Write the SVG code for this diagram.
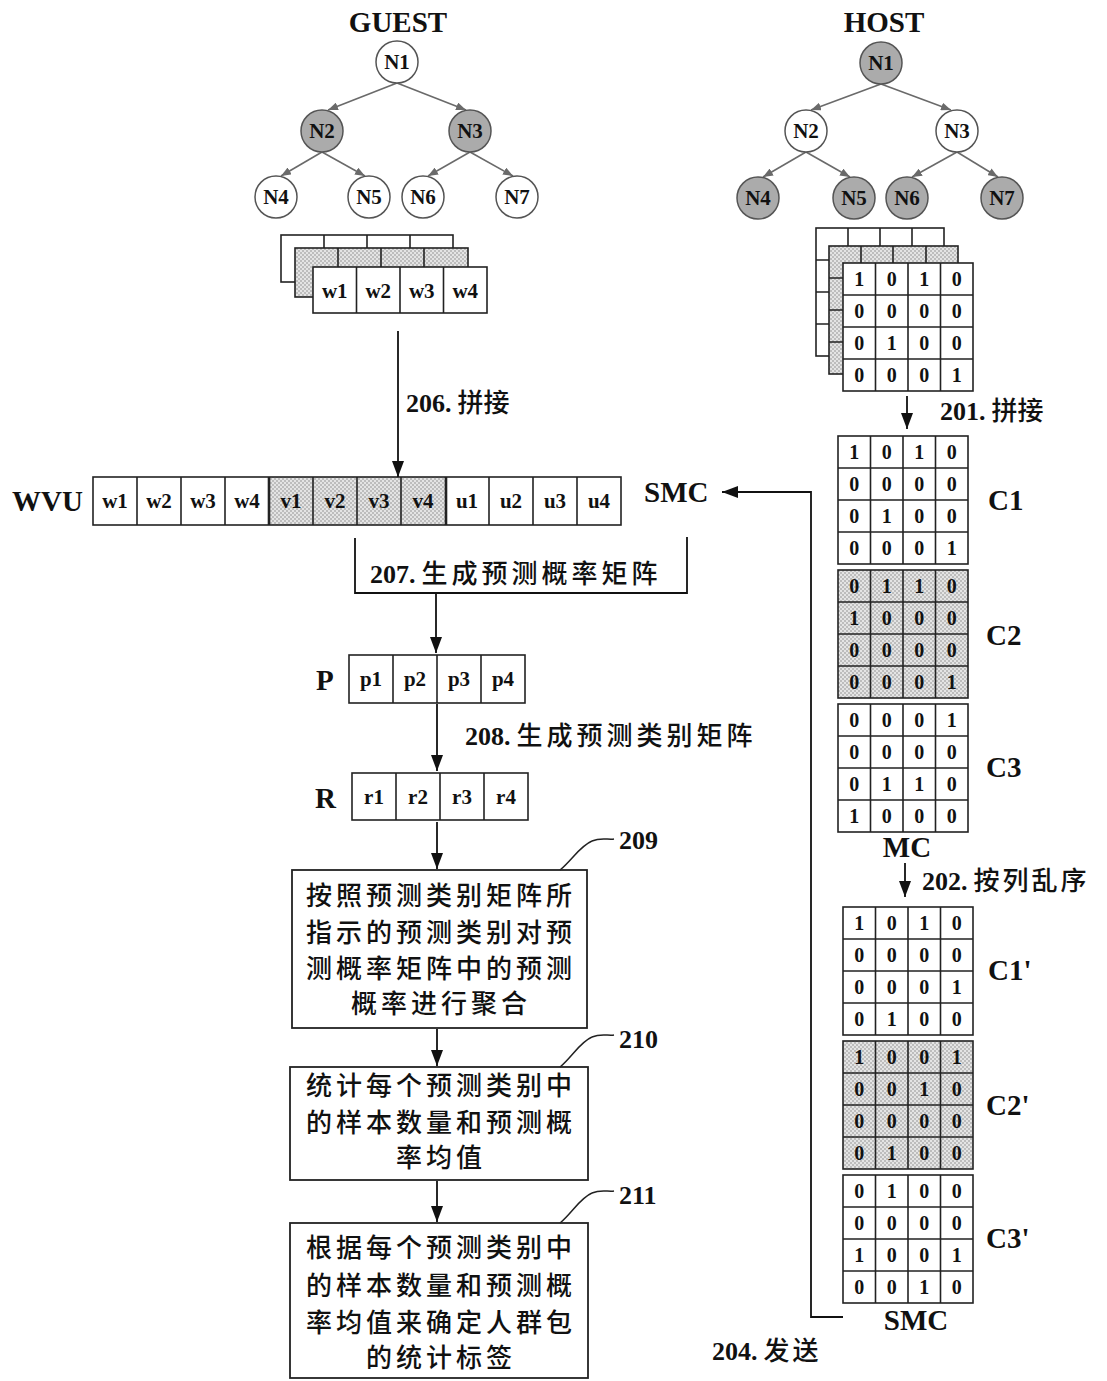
<svg xmlns="http://www.w3.org/2000/svg" width="1107" height="1381" viewBox="0 0 1107 1381">
<defs>
<pattern id="dots" width="4" height="4" patternUnits="userSpaceOnUse">
<rect width="4" height="4" fill="#e4e4e4"/>
<circle cx="1" cy="1" r="0.8" fill="#8c8c8c"/>
<circle cx="3" cy="3" r="0.8" fill="#8c8c8c"/>
</pattern>
<marker id="ah" markerWidth="16" markerHeight="12" refX="16" refY="6" orient="auto" markerUnits="userSpaceOnUse" viewBox="0 0 16 12">
<path d="M0,0 L16,6 L0,12 Z" fill="#111"/>
</marker>
<marker id="tah" markerWidth="10" markerHeight="8" refX="10" refY="4" orient="auto" markerUnits="userSpaceOnUse" viewBox="0 0 10 8">
<path d="M0,0 L10,4 L0,8 Z" fill="#6a6a6a"/>
</marker>
</defs>
<style>
.lat{font-family:"Liberation Serif","Times New Roman",serif;font-weight:bold;fill:#111}
.cjk{font-family:"Noto Sans CJK SC","Noto Sans",sans-serif;font-weight:500;fill:#111}
.node{stroke:#555;stroke-width:1.5}
.wht{fill:#fff}
.gry{fill:#ababab}
.nl{font-family:"Liberation Serif",serif;font-weight:bold;font-size:21px;fill:#111;text-anchor:middle}
.te{stroke:#6a6a6a;stroke-width:1.6;fill:none;marker-end:url(#tah)}
.cell{stroke:#222;stroke-width:1.6}
.ct{font-family:"Liberation Serif",serif;font-weight:bold;font-size:21px;fill:#111;text-anchor:middle}
.num{font-family:"Liberation Serif",serif;font-weight:bold;font-size:20px;fill:#111;text-anchor:middle}
.big{font-family:"Liberation Serif",serif;font-weight:bold;font-size:29px;fill:#111}
.conn{stroke:#111;stroke-width:1.8;fill:none}
.box{fill:#fff;stroke:#222;stroke-width:1.8}
.bt{font-family:"Noto Sans CJK SC",sans-serif;font-weight:500;font-size:26px;letter-spacing:4px;fill:#111;text-anchor:middle}
.call{stroke:#222;stroke-width:1.5;fill:none}
</style>
<rect width="1107" height="1381" fill="#fff"/>

<!-- Titles -->
<text class="big" x="398" y="32" text-anchor="middle" font-size="28">GUEST</text>
<text class="big" x="884" y="32" text-anchor="middle" font-size="28">HOST</text>

<!-- Tree connectors -->
<g id="tree-edges">
<line class="te" x1="397" y1="83" x2="328" y2="110"/>
<line class="te" x1="397" y1="83" x2="466" y2="110"/>
<line class="te" x1="322" y1="152" x2="281" y2="176"/>
<line class="te" x1="322" y1="152" x2="365" y2="176"/>
<line class="te" x1="470" y1="152" x2="428" y2="176"/>
<line class="te" x1="470" y1="152" x2="513" y2="176"/>
<line class="te" x1="881" y1="84" x2="811" y2="110"/>
<line class="te" x1="881" y1="84" x2="951" y2="110"/>
<line class="te" x1="806" y1="152" x2="763" y2="177"/>
<line class="te" x1="806" y1="152" x2="850" y2="177"/>
<line class="te" x1="957" y1="152" x2="912" y2="177"/>
<line class="te" x1="957" y1="152" x2="998" y2="177"/>
</g>

<!-- Guest tree nodes -->
<g id="g-N1"><circle class="node wht" cx="397" cy="62" r="21"/><text class="nl" x="397" y="69">N1</text></g>
<g id="g-N2"><circle class="node gry" cx="322" cy="131" r="21"/><text class="nl" x="322" y="138">N2</text></g>
<g id="g-N3"><circle class="node gry" cx="470" cy="131" r="21"/><text class="nl" x="470" y="138">N3</text></g>
<g id="g-N4"><circle class="node wht" cx="276" cy="197" r="21"/><text class="nl" x="276" y="204">N4</text></g>
<g id="g-N5"><circle class="node wht" cx="369" cy="197" r="21"/><text class="nl" x="369" y="204">N5</text></g>
<g id="g-N6"><circle class="node wht" cx="423" cy="197" r="21"/><text class="nl" x="423" y="204">N6</text></g>
<g id="g-N7"><circle class="node wht" cx="517" cy="197" r="21"/><text class="nl" x="517" y="204">N7</text></g>

<!-- Host tree nodes -->
<g id="h-N1"><circle class="node gry" cx="881" cy="63" r="21"/><text class="nl" x="881" y="70">N1</text></g>
<g id="h-N2"><circle class="node wht" cx="806" cy="131" r="21"/><text class="nl" x="806" y="138">N2</text></g>
<g id="h-N3"><circle class="node wht" cx="957" cy="131" r="21"/><text class="nl" x="957" y="138">N3</text></g>
<g id="h-N4"><circle class="node gry" cx="758" cy="198" r="21"/><text class="nl" x="758" y="205">N4</text></g>
<g id="h-N5"><circle class="node gry" cx="854" cy="198" r="21"/><text class="nl" x="854" y="205">N5</text></g>
<g id="h-N6"><circle class="node gry" cx="907" cy="198" r="21"/><text class="nl" x="907" y="205">N6</text></g>
<g id="h-N7"><circle class="node gry" cx="1002" cy="198" r="21"/><text class="nl" x="1002" y="205">N7</text></g>

<!-- Guest stacked W matrices -->
<g id="guest-w-stack">
<rect class="cell" x="281" y="235" width="172" height="47" fill="#fff"/>
<path class="cell" d="M324,235V282M367,235V282M410,235V282"/>
<rect class="cell" x="295" y="248" width="173" height="49" fill="url(#dots)"/>
<path class="cell" d="M338,248V297M381,248V297M424,248V297"/>
<rect class="cell" x="313" y="267" width="174" height="46" fill="#fff"/>
<path class="cell" d="M356.5,267V313M400,267V313M443.5,267V313"/>
<text class="ct" x="334.75" y="298">w1</text>
<text class="ct" x="378.25" y="298">w2</text>
<text class="ct" x="421.75" y="298">w3</text>
<text class="ct" x="465.25" y="298">w4</text>
</g>

<!-- Host stacked matrices -->
<g id="host-stack">
<rect class="cell" x="816" y="228" width="128" height="128" fill="#fff"/>
<path class="cell" d="M848,228V356M880,228V356M912,228V356M816,260H944M816,292H944M816,324H944"/>
<rect class="cell" x="829" y="246" width="129" height="128" fill="url(#dots)"/>
<path class="cell" d="M861,246V374M893,246V374M926,246V374M829,278H958M829,310H958M829,342H958"/>
<rect class="cell" x="843" y="263" width="130" height="128" fill="#fff"/>
<path class="cell" d="M875.5,263V391M908,263V391M940.5,263V391M843,295H973M843,327H973M843,359H973"/>
<text class="num" x="859.25 891.75 924.25 956.75" y="286">1010</text>
<text class="num" x="859.25 891.75 924.25 956.75" y="318">0000</text>
<text class="num" x="859.25 891.75 924.25 956.75" y="350">0100</text>
<text class="num" x="859.25 891.75 924.25 956.75" y="382">0001</text>
</g>

<!-- MC -->
<g id="C1">
<rect class="cell" x="838" y="436" width="130" height="128" fill="#fff"/>
<path class="cell" d="M870.5,436V564M903,436V564M935.5,436V564M838,468H968M838,500H968M838,532H968"/>
<text class="num" x="854.25 886.75 919.25 951.75" y="459">1010</text>
<text class="num" x="854.25 886.75 919.25 951.75" y="491">0000</text>
<text class="num" x="854.25 886.75 919.25 951.75" y="523">0100</text>
<text class="num" x="854.25 886.75 919.25 951.75" y="555">0001</text>
<text class="big" x="988" y="510">C1</text>
</g>
<g id="C2">
<rect class="cell" x="838" y="570" width="130" height="128" fill="url(#dots)"/>
<path class="cell" d="M870.5,570V698M903,570V698M935.5,570V698M838,602H968M838,634H968M838,666H968"/>
<text class="num" x="854.25 886.75 919.25 951.75" y="593">0110</text>
<text class="num" x="854.25 886.75 919.25 951.75" y="625">1000</text>
<text class="num" x="854.25 886.75 919.25 951.75" y="657">0000</text>
<text class="num" x="854.25 886.75 919.25 951.75" y="689">0001</text>
<text class="big" x="986" y="645">C2</text>
</g>
<g id="C3">
<rect class="cell" x="838" y="704" width="130" height="128" fill="#fff"/>
<path class="cell" d="M870.5,704V832M903,704V832M935.5,704V832M838,736H968M838,768H968M838,800H968"/>
<text class="num" x="854.25 886.75 919.25 951.75" y="727">0001</text>
<text class="num" x="854.25 886.75 919.25 951.75" y="759">0000</text>
<text class="num" x="854.25 886.75 919.25 951.75" y="791">0110</text>
<text class="num" x="854.25 886.75 919.25 951.75" y="823">1000</text>
<text class="big" x="986" y="777">C3</text>
</g>
<text class="big" x="907" y="857" text-anchor="middle" font-size="28">MC</text>

<!-- SMC -->
<g id="C1p">
<rect class="cell" x="843" y="907" width="130" height="128" fill="#fff"/>
<path class="cell" d="M875.5,907V1035M908,907V1035M940.5,907V1035M843,939H973M843,971H973M843,1003H973"/>
<text class="num" x="859.25 891.75 924.25 956.75" y="930">1010</text>
<text class="num" x="859.25 891.75 924.25 956.75" y="962">0000</text>
<text class="num" x="859.25 891.75 924.25 956.75" y="994">0001</text>
<text class="num" x="859.25 891.75 924.25 956.75" y="1026">0100</text>
<text class="big" x="988" y="980">C1'</text>
</g>
<g id="C2p">
<rect class="cell" x="843" y="1041" width="130" height="128" fill="url(#dots)"/>
<path class="cell" d="M875.5,1041V1169M908,1041V1169M940.5,1041V1169M843,1073H973M843,1105H973M843,1137H973"/>
<text class="num" x="859.25 891.75 924.25 956.75" y="1064">1001</text>
<text class="num" x="859.25 891.75 924.25 956.75" y="1096">0010</text>
<text class="num" x="859.25 891.75 924.25 956.75" y="1128">0000</text>
<text class="num" x="859.25 891.75 924.25 956.75" y="1160">0100</text>
<text class="big" x="986" y="1115">C2'</text>
</g>
<g id="C3p">
<rect class="cell" x="843" y="1175" width="130" height="128" fill="#fff"/>
<path class="cell" d="M875.5,1175V1303M908,1175V1303M940.5,1175V1303M843,1207H973M843,1239H973M843,1271H973"/>
<text class="num" x="859.25 891.75 924.25 956.75" y="1198">0100</text>
<text class="num" x="859.25 891.75 924.25 956.75" y="1230">0000</text>
<text class="num" x="859.25 891.75 924.25 956.75" y="1262">1001</text>
<text class="num" x="859.25 891.75 924.25 956.75" y="1294">0010</text>
<text class="big" x="986" y="1248">C3'</text>
</g>
<text class="big" x="916" y="1330" text-anchor="middle" font-size="28">SMC</text>

<!-- WVU row -->
<g id="WVU">
<text class="big" x="12" y="511" font-size="29">WVU</text>
<rect x="269" y="477" width="176" height="48" fill="url(#dots)"/>
<rect class="cell" x="93" y="477" width="528" height="48" fill="none"/>
<path class="cell" d="M137,477V525M181,477V525M225,477V525M313,477V525M357,477V525M401,477V525M489,477V525M533,477V525M577,477V525"/>
<path d="M269,477V525M446,477V525" stroke="#222" stroke-width="2.6"/>
<text class="ct" x="115" y="508">w1</text><text class="ct" x="159" y="508">w2</text><text class="ct" x="203" y="508">w3</text><text class="ct" x="247" y="508">w4</text>
<text class="ct" x="291" y="508">v1</text><text class="ct" x="335" y="508">v2</text><text class="ct" x="379" y="508">v3</text><text class="ct" x="423" y="508">v4</text>
<text class="ct" x="467" y="508">u1</text><text class="ct" x="511" y="508">u2</text><text class="ct" x="555" y="508">u3</text><text class="ct" x="599" y="508">u4</text>
</g>
<text class="big" x="644" y="502" font-size="28">SMC</text>

<!-- P row -->
<g id="P">
<text class="big" x="316" y="690">P</text>
<rect class="cell" x="349" y="655" width="176" height="48" fill="#fff"/>
<path class="cell" d="M393,655V703M437,655V703M481,655V703"/>
<text class="ct" x="371" y="686">p1</text><text class="ct" x="415" y="686">p2</text><text class="ct" x="459" y="686">p3</text><text class="ct" x="503" y="686">p4</text>
</g>
<!-- R row -->
<g id="R">
<text class="big" x="315" y="808">R</text>
<rect class="cell" x="352" y="773" width="176" height="47" fill="#fff"/>
<path class="cell" d="M396,773V820M440,773V820M484,773V820"/>
<text class="ct" x="374" y="804">r1</text><text class="ct" x="418" y="804">r2</text><text class="ct" x="462" y="804">r3</text><text class="ct" x="506" y="804">r4</text>
</g>

<!-- Process boxes -->
<g id="box209">
<rect class="box" x="292" y="870" width="295" height="158"/>
<text class="bt" x="441" y="905">按照预测类别矩阵所</text>
<text class="bt" x="441" y="942">指示的预测类别对预</text>
<text class="bt" x="441" y="978">测概率矩阵中的预测</text>
<text class="bt" x="441" y="1013">概率进行聚合</text>
</g>
<g id="box210">
<rect class="box" x="290" y="1067" width="298" height="113"/>
<text class="bt" x="441" y="1095">统计每个预测类别中</text>
<text class="bt" x="441" y="1132">的样本数量和预测概</text>
<text class="bt" x="441" y="1167">率均值</text>
</g>
<g id="box211">
<rect class="box" x="290" y="1223" width="298" height="155"/>
<text class="bt" x="441" y="1257">根据每个预测类别中</text>
<text class="bt" x="441" y="1295">的样本数量和预测概</text>
<text class="bt" x="441" y="1332">率均值来确定人群包</text>
<text class="bt" x="441" y="1367">的统计标签</text>
</g>

<!-- Callouts -->
<g id="callouts">
<path class="call" d="M560,870 C572,860 580,846 592,841 C601,837 608,840 614,839"/>
<text class="lat" x="619" y="849" font-size="26">209</text>
<path class="call" d="M560,1067 C572,1057 580,1042 592,1037 C601,1033 608,1036 614,1035"/>
<text class="lat" x="619" y="1048" font-size="26">210</text>
<path class="call" d="M560,1223 C572,1213 580,1198 592,1193 C601,1189 608,1192 614,1191"/>
<text class="lat" x="619" y="1204" font-size="26">211</text>
</g>

<!-- Connectors -->
<g id="connectors">
<line class="conn" x1="398" y1="331" x2="398" y2="477" marker-end="url(#ah)"/>
<path class="conn" d="M355,538V593H687V537"/>
<line class="conn" x1="436" y1="593" x2="436" y2="653" marker-end="url(#ah)"/>
<line class="conn" x1="437" y1="704" x2="437" y2="771" marker-end="url(#ah)"/>
<line class="conn" x1="437" y1="822" x2="437" y2="869" marker-end="url(#ah)"/>
<line class="conn" x1="437" y1="1029" x2="437" y2="1066" marker-end="url(#ah)"/>
<line class="conn" x1="437" y1="1181" x2="437" y2="1222" marker-end="url(#ah)"/>
<line class="conn" x1="907" y1="396" x2="907" y2="429" marker-end="url(#ah)"/>
<line class="conn" x1="905" y1="863" x2="905" y2="897" marker-end="url(#ah)"/>
<path class="conn" d="M843,1317H811V492H722" marker-end="url(#ah)"/>
</g>

<!-- Step labels -->
<text x="406" y="412" font-size="26"><tspan class="lat">206.</tspan><tspan class="cjk" dx="6">拼接</tspan></text>
<text x="370" y="583" font-size="26"><tspan class="lat">207.</tspan><tspan class="cjk" dx="6" letter-spacing="4">生成预测概率矩阵</tspan></text>
<text x="465" y="745" font-size="26"><tspan class="lat">208.</tspan><tspan class="cjk" dx="6" letter-spacing="4">生成预测类别矩阵</tspan></text>
<text x="940" y="420" font-size="26"><tspan class="lat">201.</tspan><tspan class="cjk" dx="6">拼接</tspan></text>
<text x="922" y="890" font-size="26"><tspan class="lat">202.</tspan><tspan class="cjk" dx="6" letter-spacing="3">按列乱序</tspan></text>
<text x="712" y="1360" font-size="26"><tspan class="lat">204.</tspan><tspan class="cjk" dx="6" letter-spacing="3">发送</tspan></text>
</svg>
